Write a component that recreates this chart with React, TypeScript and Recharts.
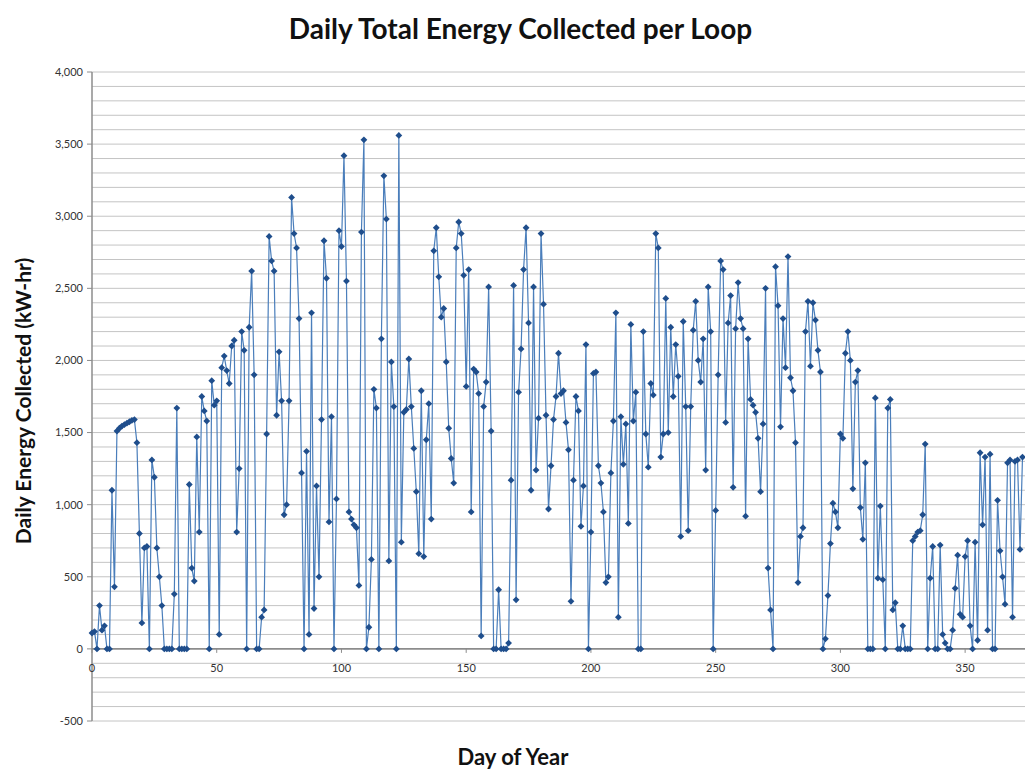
import React from 'react';
import {
  LineChart,
  Line,
  XAxis,
  YAxis,
  ReferenceLine,
  ReferenceDot,
} from 'recharts';

// daily kW-hr per loop in day order (day 0 onwards)
const ENERGY_JAN = [
  110, 120, 0, 300, 130, 160, 0, 0, 1100, 430,
  1510, 1530, 1545, 1555, 1565, 1575, 1585, 1590, 1430, 800,
  180, 700, 710, 0, 1310, 1190, 700, 500, 300, 0,
  0, 0, 0, 380, 1670, 0,
];
const ENERGY_FEB = [
  0, 0, 0, 1140, 560, 470, 1470, 810, 1750, 1650,
  1580, 0, 1860, 1690, 1720, 100, 1950, 2030, 1930, 1840,
  2100, 2140, 810, 1250, 2200, 2070, 0, 2230, 2620, 1900,
  0, 0, 220, 270, 1490, 2860, 2690, 2620, 1620, 2060,
];
const ENERGY_MAR_APR = [
  1720, 930, 1000, 1720, 3130, 2880, 2780, 2290, 1220, 0,
  1370, 100, 2330, 280, 1130, 500, 1590, 2830, 2570, 880,
  1610, 0, 1040, 2900, 2790, 3420, 2550, 950, 900, 860,
  840, 440, 2890, 3530, 0, 150, 620, 1800,
];
const ENERGY_MAY = [
  1670, 0, 2150, 3280, 2980, 610, 1990, 1680, 0, 3560,
  740, 1640, 1660, 2010, 1680, 1390, 1090, 660, 1790, 640,
  1450, 1700, 900, 2760, 2920, 2580, 2300, 2360, 1990, 1530,
  1320, 1150, 2780, 2960, 2880, 2590, 1820, 2630,
];
const ENERGY_JUN = [
  950, 1940, 1920, 1770, 90, 1680, 1850, 2510, 1510, 0,
  0, 410, 0, 0, 0, 40, 1170, 2520, 340, 1780,
  2080, 2630, 2920, 2260, 1100, 2510, 1240, 1600, 2880, 2390,
  1620, 970, 1270, 1590, 1750, 2050, 1770, 1790, 1570,
];
const ENERGY_JUL = [
  1380, 330, 1170, 1750, 1650, 850, 1130, 2110, 0, 810,
  1910, 1920, 1270, 1150, 950, 460, 500, 1220, 1580, 2330,
  220, 1610, 1280, 1560, 870, 2250, 1580, 1780, 0, 0,
  2200, 1490, 1260, 1840, 1760,
];
const ENERGY_AUG = [
  2880, 2780, 1330, 1490, 2430, 1500, 2230, 1750, 2110, 1890,
  780, 2270, 1680, 820, 1680, 2210, 2410, 2000, 1850, 2150,
  1240, 2510, 2200, 0, 960, 1900, 2690, 2630, 1570, 2260,
  2450, 1120, 2220, 2540, 2290, 2220, 920, 2150, 1730,
];
const ENERGY_SEP_OCT = [
  1690, 1640, 1460, 1090, 1560, 2500, 560, 270, 0, 2650,
  2380, 1540, 2290, 1950, 2720, 1880, 1790, 1430, 460, 780,
  840, 2200, 2410, 1960, 2400, 2280, 2070, 1920, 0, 70,
  370, 730, 1010, 950, 840, 1490, 1460, 2050, 2200,
];
const ENERGY_NOV = [
  2000, 1110, 1850, 1930, 980, 760, 1290, 0, 0, 0,
  1740, 490, 990, 480, 0, 1670, 1730, 270, 320, 0,
  0, 160, 0, 0, 0, 750, 780, 810, 820, 930,
  1420, 0, 490, 710, 0, 0, 720, 100,
];
const ENERGY_DEC = [
  40, 0, 0, 130, 420, 650, 240, 220, 640, 750,
  160, 0, 740, 60, 1360, 860, 1330, 130, 1350, 0,
  0, 1030, 680, 500, 310, 1290, 1310, 220, 1300, 1310,
  690, 1330,
];

const X_TICKS = [0, 50, 100, 150, 200, 250, 300, 350];
const Y_TICKS = [-500, 0, 500, 1000, 1500, 2000, 2500, 3000, 3500, 4000];
const Y_GRID_STEP = 100;

const ENERGY = [
  ...ENERGY_JAN, ...ENERGY_FEB, ...ENERGY_MAR_APR, ...ENERGY_MAY, ...ENERGY_JUN,
  ...ENERGY_JUL, ...ENERGY_AUG, ...ENERGY_SEP_OCT, ...ENERGY_NOV, ...ENERGY_DEC,
];
const data = ENERGY.map((kwh, day) => ({ day, kwh }));

// minor gridlines every 100 kW-hr (the zero line is drawn as the axis)
const yGrid: number[] = [];
for (let v = Y_TICKS[0]; v <= Y_TICKS[Y_TICKS.length - 1]; v += Y_GRID_STEP) {
  if (v !== 0) yGrid.push(v);
}

const FONT = 'Lato, "Open Sans", sans-serif';

const Diamond = (props: any) => {
  const { cx, cy, index } = props;
  if (cx == null || cy == null) return <g key={`d-${index}`} />;
  const s = 3.4;
  return (
    <path
      key={`d-${index}`}
      d={`M${cx},${cy - s}L${cx + s},${cy}L${cx},${cy + s}L${cx - s},${cy}Z`}
      fill="#1f4e8c"
    />
  );
};

const dayTick = (value: number) => (props: any) => {
  const { cx, cy } = props;
  if (cx == null || cy == null) return <g />;
  return (
    <g>
      <line x1={cx} y1={cy} x2={cx} y2={cy + 4} stroke="#8c8c8c" />
      <text x={cx} y={cy + 23} textAnchor="middle" fontSize={11} fill="#333" fontFamily={FONT}>
        {value}
      </text>
    </g>
  );
};

export default function App() {
  return (
    <div
      style={{
        position: 'absolute',
        left: 0,
        top: 0,
        width: 1025,
        height: 771,
        background: '#fff',
        overflow: 'hidden',
        fontFamily: FONT,
      }}
    >
      <div
        style={{
          position: 'absolute',
          left: 8,
          top: 11,
          width: 1025,
          textAlign: 'center',
          fontSize: 28,
          fontWeight: 700,
          color: '#111',
        }}
      >
        Daily Total Energy Collected per Loop
      </div>
      <div
        style={{
          position: 'absolute',
          left: 22,
          top: 401,
          transform: 'translate(-50%, -50%) rotate(-90deg)',
          whiteSpace: 'nowrap',
          fontSize: 21,
          fontWeight: 700,
          color: '#111',
        }}
      >
        Daily Energy Collected (kW-hr)
      </div>
      <div
        style={{
          position: 'absolute',
          left: 0,
          top: 743,
          width: 1026,
          textAlign: 'center',
          fontSize: 22,
          fontWeight: 700,
          color: '#111',
        }}
      >
        Day of Year
      </div>

      <LineChart
        width={1025}
        height={771}
        data={data}
        margin={{ top: 72, right: 0, bottom: 50, left: 0 }}
      >
        <XAxis dataKey="day" type="number" domain={[0, 374]} ticks={X_TICKS} hide />
        <YAxis
          type="number"
          domain={[-500, 4000]}
          ticks={Y_TICKS}
          width={92}
          tickSize={5}
          tickMargin={4}
          axisLine={{ stroke: '#8c8c8c', strokeWidth: 1.5 }}
          tickLine={{ stroke: '#8c8c8c' }}
          tick={{ fontSize: 11, fill: '#333', fontFamily: FONT }}
          tickFormatter={(v: number) => v.toLocaleString('en-US')}
        />
        {yGrid.map((v) => (
          <ReferenceLine key={`g${v}`} y={v} stroke="#c4c4c4" strokeWidth={1} />
        ))}
        <ReferenceLine y={0} stroke="#8c8c8c" strokeWidth={1.8} />
        {X_TICKS.map((t) => (
          <ReferenceDot key={t} x={t} y={0} r={0} shape={dayTick(t)} />
        ))}
        <Line
          type="linear"
          dataKey="kwh"
          stroke="#4a7ebb"
          strokeWidth={1.2}
          dot={Diamond}
          activeDot={false}
          isAnimationActive={false}
        />
      </LineChart>
    </div>
  );
}
